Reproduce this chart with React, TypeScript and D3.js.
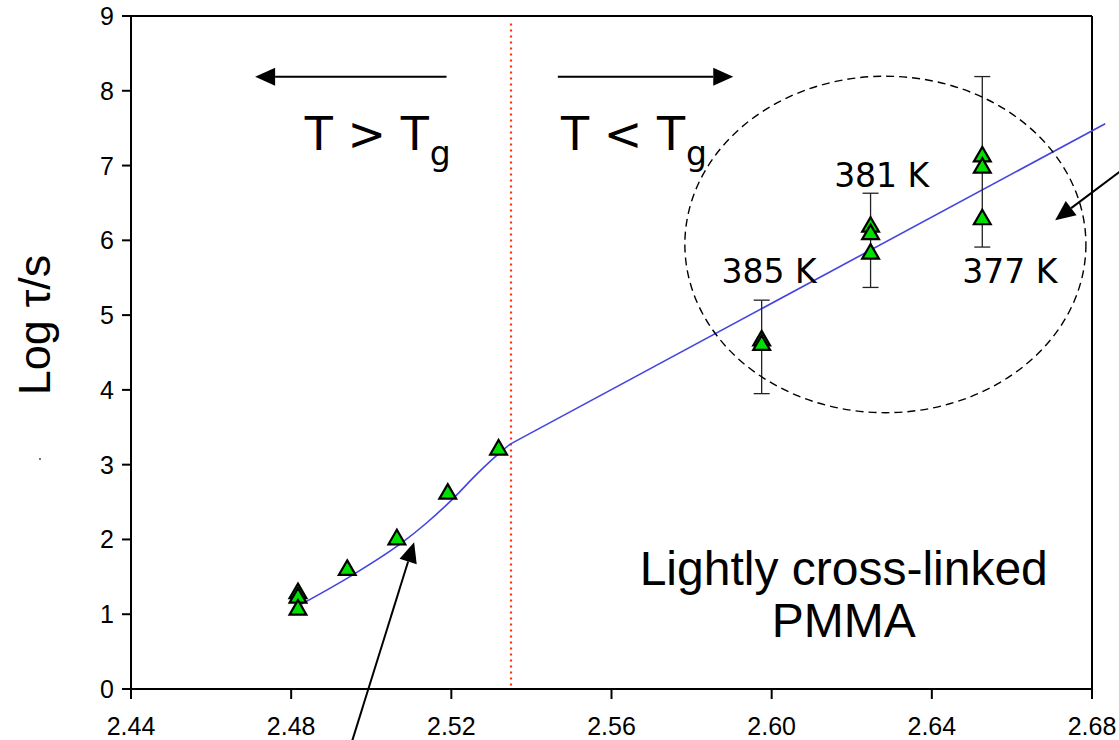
import React, { useEffect } from "react";
import * as d3 from "d3";

// Relaxation time vs 1000/T (x) for lightly cross-linked PMMA
const xTicks = [2.44, 2.48, 2.52, 2.56, 2.6, 2.64, 2.68];
const yTicks = [0, 1, 2, 3, 4, 5, 6, 7, 8, 9];

// measured points above Tg
const meltX = [2.4817, 2.4817, 2.4817, 2.494, 2.5064, 2.5191, 2.5318];
const meltY = [1.28, 1.22, 1.06, 1.59, 2.0, 2.61, 3.2];

// aged glass points (385 K, 381 K, 377 K)
const glassX = [2.5975, 2.5975, 2.6247, 2.6247, 2.6247, 2.6526, 2.6526, 2.6526];
const glassY = [4.66, 4.6, 6.18, 6.08, 5.82, 7.12, 6.97, 6.28];

// error bars on the glass points
const errX = [2.5975, 2.6247, 2.6526];
const errLow = [3.95, 5.37, 5.91];
const errHigh = [5.2, 6.63, 8.19];

// temperature labels
const tempLabels = ["385 K", "381 K", "377 K"];
const tempLabelX = [2.5875, 2.6156, 2.6476];
const tempLabelY = [5.43, 6.715, 5.43];

// VFT fit above Tg and Arrhenius extrapolation below
const vftX = [2.4826, 2.4955, 2.508, 2.5138, 2.5205, 2.5263, 2.533, 2.5347];
const vftY = [1.136, 1.53, 1.97, 2.22, 2.55, 2.87, 3.2, 3.275];
const arrX = [2.5347, 2.6833];
const arrY = [3.275, 7.56];

const tgX = 2.5349;

const W = 1119;
const H = 740;
const x = d3.scaleLinear().domain([2.44, 2.68]).range([131, 1092]);
const y = d3.scaleLinear().domain([0, 9]).range([689, 16]);

const FONT = "'Liberation Sans', Arial, sans-serif";
const NOTE_FONT = "'DejaVu Sans', Verdana, sans-serif";

function Arrow({ x1, y1, x2, y2, len = 20, half = 9 }: any) {
  const ax1 = x(x1), ay1 = y(y1), ax2 = x(x2), ay2 = y(y2);
  const dx = ax2 - ax1, dy = ay2 - ay1;
  const d = Math.hypot(dx, dy);
  const ux = dx / d, uy = dy / d;
  const bx = ax2 - ux * len, by = ay2 - uy * len;
  const pts = [
    [ax2, ay2],
    [bx - uy * half, by + ux * half],
    [bx + uy * half, by - ux * half],
  ];
  return (
    <g>
      <line x1={ax1} y1={ay1} x2={bx} y2={by} stroke="#000" strokeWidth={2} />
      <polygon points={pts.map((p) => p.join(",")).join(" ")} fill="#000" />
    </g>
  );
}

export default function App() {
  useEffect(() => {
    document.body.style.margin = "0";
  }, []);

  const tri = d3.symbol().type(d3.symbolTriangle).size(122)() as string;
  const vftLine = d3
    .line<number>()
    .x((_, i) => x(vftX[i]))
    .y((d) => y(d))
    .curve(d3.curveMonotoneX)(vftY) as string;
  const arrLine = d3
    .line<number>()
    .x((_, i) => x(arrX[i]))
    .y((d) => y(d))(arrY) as string;

  const markers = [
    ...meltX.map((v, i) => [v, meltY[i]]),
    ...glassX.map((v, i) => [v, glassY[i]]),
  ];

  return (
    <svg width={W} height={H} style={{ display: "block", background: "#fff" }} fontFamily={FONT}>
      {/* frame */}
      <line x1={x(2.68)} y1={y(9)} x2={x(2.68)} y2={y(0)} stroke="#000" strokeWidth={2} />
      <line x1={x(2.44)} y1={y(9)} x2={x(2.68)} y2={y(9)} stroke="#000" strokeWidth={2} />

      {/* Tg divider */}
      <line
        x1={x(tgX)}
        x2={x(tgX)}
        y1={y(8.9)}
        y2={y(0)}
        stroke="#ff3010"
        strokeWidth={2.2}
        strokeDasharray="2 4"
      />

      {/* fits */}
      <path d={vftLine} fill="none" stroke="#4444e0" strokeWidth={1.6} />
      <path d={arrLine} fill="none" stroke="#4444e0" strokeWidth={1.6} />

      {/* error bars */}
      {errX.map((v, i) => (
        <g key={"e" + i} stroke="#222" strokeWidth={1.3}>
          <line x1={x(v)} x2={x(v)} y1={y(errLow[i])} y2={y(errHigh[i])} />
          <line x1={x(v) - 8} x2={x(v) + 8} y1={y(errLow[i])} y2={y(errLow[i])} />
          <line x1={x(v) - 8} x2={x(v) + 8} y1={y(errHigh[i])} y2={y(errHigh[i])} />
        </g>
      ))}

      {/* data markers */}
      {markers.map(([mx, my], i) => (
        <path
          key={"m" + i}
          d={tri}
          transform={`translate(${x(mx)},${y(my)})`}
          fill="#00e000"
          stroke="#000"
          strokeWidth={2.2}
          strokeLinejoin="miter"
        />
      ))}

      {/* glass region outline */}
      <ellipse
        cx={x(2.6284)}
        cy={y(5.945)}
        rx={x(2.6284 + 0.05008) - x(2.6284)}
        ry={y(5.945) - y(5.945 + 2.25)}
        fill="none"
        stroke="#000"
        strokeWidth={1.4}
        strokeDasharray="8 5"
      />

      {/* temperature labels */}
      {tempLabels.map((t, i) => (
        <text
          key={"t" + i}
          x={x(tempLabelX[i])}
          y={y(tempLabelY[i])}
          fontSize={33}
          fontFamily={NOTE_FONT}
          fill="#000"
        >
          {t}
        </text>
      ))}

      {/* region annotations */}
      <Arrow x1={2.5188} y1={8.186} x2={2.471} y2={8.186} />
      <Arrow x1={2.5466} y1={8.186} x2={2.5904} y2={8.186} />
      <text x={x(2.4834)} y={y(7.206)} fontSize={46} fontFamily={NOTE_FONT}>
        T &gt; T
        <tspan fontSize={33} dy={15} dx={1}>g</tspan>
      </text>
      <text x={x(2.5474)} y={y(7.206)} fontSize={46} fontFamily={NOTE_FONT}>
        T &lt; T
        <tspan fontSize={33} dy={15} dx={1}>g</tspan>
      </text>

      <Arrow x1={2.4952} y1={-0.7} x2={2.5107} y2={1.961} />
      <Arrow x1={2.6872} y1={6.93} x2={2.6708} y2={6.27} />

      <text x={x(2.618)} y={y(1.39)} fontSize={48} textAnchor="middle">
        Lightly cross-linked
      </text>
      <text x={x(2.618)} y={y(0.7)} fontSize={48} textAnchor="middle">
        PMMA
      </text>

      {/* axes */}
      <line x1={x(2.44)} y1={y(0)} x2={x(2.68)} y2={y(0)} stroke="#000" strokeWidth={2} />
      <line x1={x(2.44)} y1={y(0)} x2={x(2.44)} y2={y(9)} stroke="#000" strokeWidth={2} />
      {xTicks.map((t) => (
        <g key={"xt" + t}>
          <line x1={x(t)} x2={x(t)} y1={y(0)} y2={y(0) + 10} stroke="#000" strokeWidth={2} />
          <text x={x(t)} y={735} fontSize={25} textAnchor="middle">
            {t.toFixed(2)}
          </text>
        </g>
      ))}
      {yTicks.map((t) => (
        <g key={"yt" + t}>
          <line x1={x(2.44) - 9} x2={x(2.44)} y1={y(t)} y2={y(t)} stroke="#000" strokeWidth={2} />
          <text x={114} y={y(t) + 9} fontSize={25} textAnchor="end">
            {t}
          </text>
        </g>
      ))}

      <text transform="translate(50,325) rotate(-90)" fontSize={45} textAnchor="middle">
        Log τ/s
      </text>
      <circle cx={40} cy={459} r={0.9} fill="#333" />
    </svg>
  );
}
